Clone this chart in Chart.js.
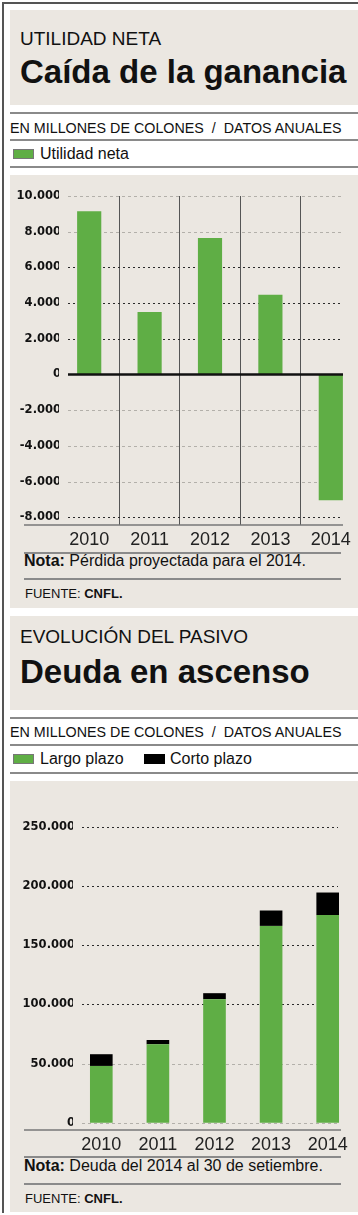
<!DOCTYPE html>
<html lang="es">
<head>
<meta charset="UTF-8">
<title>CNFL</title>
<script src="https://cdn.jsdelivr.net/npm/chart.js"></script>
<style>
  html, body { margin: 0; padding: 0; background: #fff; overflow: hidden; }
  body { position: relative; width: 358px; height: 1215px; font-family: "Liberation Sans", Arial, sans-serif; color: #111; }
  .abs { position: absolute; }
  .beige { background: #ebe7e1; }
  .rule { position: absolute; height: 0; border-top: 2px solid #8a8a8a; }
  .kicker { font-size: 19px; line-height: 1; white-space: nowrap; }
  .title { font-size: 33px; font-weight: bold; line-height: 1; white-space: nowrap; }
  .units { font-size: 14.3px; line-height: 1; white-space: pre; }
  .legend { font-size: 16px; line-height: 1; white-space: nowrap; }
  .swatch { position: absolute; width: 19px; height: 8px; border: 1px solid #777; }
  .note { font-size: 16px; line-height: 1; white-space: nowrap; }
  .src { font-size: 13px; line-height: 1; white-space: nowrap; }
</style>
</head>
<body>

<!-- frame -->
<div class="abs" style="left:3px;top:2px;width:355px;height:0;border-top:2px solid #555"></div>
<div class="abs" style="left:2px;top:2px;width:0;height:1211px;border-left:2px solid #555"></div>

<!-- panel 1 -->
<div class="abs beige" style="left:10px;top:10px;width:348px;height:95px"></div>
<div class="abs kicker" style="left:20px;top:29px">UTILIDAD NETA</div>
<div class="abs title" style="left:20px;top:55px">Caída de la ganancia</div>
<div class="rule" style="left:10px;top:112px;width:348px"></div>
<div class="abs units" style="left:10px;top:121px">EN MILLONES DE COLONES  /  DATOS ANUALES</div>
<div class="rule" style="left:10px;top:139px;width:348px"></div>
<div class="swatch" style="left:13px;top:149px;background:#5fae45"></div>
<div class="abs legend" style="left:40px;top:146px">Utilidad neta</div>
<div class="rule" style="left:10px;top:166px;width:348px"></div>

<div class="abs beige" style="left:10px;top:175px;width:348px;height:433px"></div>
<canvas id="chart1" class="abs" style="left:0;top:180px" width="362" height="370"></canvas>
<div class="rule" style="left:24px;top:552px;width:317px"></div>
<div class="abs note" style="left:24px;top:553px"><b>Nota:</b> Pérdida proyectada para el 2014.</div>
<div class="rule" style="left:24px;top:578px;width:317px"></div>
<div class="abs src" style="left:25px;top:587px">FUENTE: <b>CNFL.</b></div>

<!-- panel 2 -->
<div class="abs beige" style="left:10px;top:616px;width:348px;height:94px"></div>
<div class="abs kicker" style="left:20px;top:627px">EVOLUCIÓN DEL PASIVO</div>
<div class="abs title" style="left:20px;top:655px">Deuda en ascenso</div>
<div class="rule" style="left:10px;top:717px;width:348px"></div>
<div class="abs units" style="left:10px;top:725px">EN MILLONES DE COLONES  /  DATOS ANUALES</div>
<div class="rule" style="left:10px;top:744px;width:348px"></div>
<div class="swatch" style="left:13px;top:754px;background:#5fae45"></div>
<div class="abs legend" style="left:40px;top:751px">Largo plazo</div>
<div class="swatch" style="left:144px;top:754px;background:#000;border-color:#000"></div>
<div class="abs legend" style="left:170px;top:751px">Corto plazo</div>
<div class="rule" style="left:10px;top:772px;width:348px"></div>

<div class="abs beige" style="left:10px;top:781px;width:348px;height:431px"></div>
<canvas id="chart2" class="abs" style="left:0;top:790px" width="358" height="365"></canvas>
<div class="rule" style="left:24px;top:1156px;width:317px"></div>
<div class="abs note" style="left:24px;top:1158px"><b>Nota:</b> Deuda del 2014 al 30 de setiembre.</div>
<div class="rule" style="left:24px;top:1183px;width:317px"></div>
<div class="abs src" style="left:25px;top:1192px">FUENTE: <b>CNFL.</b></div>

<script>
  // data
  const years = ['2010', '2011', '2012', '2013', '2014'];
  const utilidad = [9150, 3500, 7650, 4470, -7050];
  const largoPlazo = [48000, 66300, 104400, 166400, 175500];
  const cortoPlazo = [9900, 3600, 5100, 13000, 19100];
  const ticks1 = [10000, 8000, 6000, 4000, 2000, 0, -2000, -4000, -6000, -8000];
  const ticks2 = [250000, 200000, 150000, 100000, 50000, 0];

  const green = '#5fae45';
  const tickFont = { family: 'DejaVu Sans', weight: 'bold', size: 11.5 };
  const yearFont = { family: 'Liberation Sans', size: 18 };

  function fmt(v) {
    const s = String(Math.abs(v)).replace(/\B(?=(\d{3})+(?!\d))/g, '.');
    return (v < 0 ? '-' : '') + s;
  }

  // dotted guides, zero line and base line, placed with the chart's own y scale
  const guides = {
    id: 'guides',
    beforeDatasetsDraw(chart, args, o) {
      const ctx = chart.ctx, y = chart.scales.y;
      ctx.save();
      y.ticks.forEach(t => {
        if (t.value === 0 && o.zero) return;
        const py = Math.round(y.getPixelForValue(t.value)) + 0.5;
        const dark = o.dark.includes(t.value);
        ctx.strokeStyle = dark ? '#2a2a2a' : '#b3b0aa';
        ctx.lineWidth = 1;
        ctx.setLineDash(dark ? [2, 3] : [3, 3]);
        ctx.beginPath();
        ctx.moveTo(o.x0, py);
        ctx.lineTo(o.x1, py);
        ctx.stroke();
      });
      ctx.setLineDash([]);
      const by = chart.chartArea.bottom;
      ctx.strokeStyle = '#777';
      ctx.lineWidth = 1.5;
      ctx.beginPath();
      ctx.moveTo(24, by);
      ctx.lineTo(o.base1, by);
      ctx.stroke();
      ctx.restore();
    },
    afterDatasetsDraw(chart, args, o) {
      if (!o.zero) return;
      const ctx = chart.ctx, py = chart.scales.y.getPixelForValue(0);
      ctx.save();
      ctx.strokeStyle = '#111';
      ctx.lineWidth = 2.5;
      ctx.beginPath();
      ctx.moveTo(o.x0, py);
      ctx.lineTo(o.x1, py);
      ctx.stroke();
      ctx.restore();
    }
  };

  new Chart(document.getElementById('chart1'), {
    type: 'bar',
    data: {
      labels: years,
      datasets: [{
        label: 'Utilidad neta',
        data: utilidad,
        backgroundColor: green,
        categoryPercentage: 1,
        barPercentage: 0.4
      }]
    },
    options: {
      responsive: false,
      animation: false,
      layout: { padding: { top: 16, right: 1, left: 0, bottom: 0 } },
      plugins: {
        legend: { display: false },
        tooltip: { enabled: false },
        guides: { x0: 68, x1: 343, base1: 343, zero: true, dark: [6000, 4000, 2000, -8000] }
      },
      scales: {
        x: {
          offset: true,
          grid: {
            offset: true,
            drawTicks: false,
            color: c => (c.index === 0 || c.index === years.length) ? 'rgba(0,0,0,0)' : '#555',
            lineWidth: 1
          },
          border: { display: false },
          ticks: { font: yearFont, color: '#222', padding: 4, maxRotation: 0 },
          afterFit: s => { s.height = 25; }
        },
        y: {
          min: -8430,
          max: 10000,
          grid: { display: false, drawTicks: false },
          border: { display: false },
          afterBuildTicks: s => { s.ticks = ticks1.map(v => ({ value: v })); },
          ticks: { font: tickFont, color: '#111', padding: -2, callback: v => fmt(v) },
          afterFit: s => { s.width = 59; }
        }
      }
    },
    plugins: [guides]
  });

  new Chart(document.getElementById('chart2'), {
    type: 'bar',
    data: {
      labels: years,
      datasets: [{
        label: 'Largo plazo',
        data: largoPlazo,
        backgroundColor: green,
        categoryPercentage: 1,
        barPercentage: 0.4
      }, {
        label: 'Corto plazo',
        data: cortoPlazo,
        backgroundColor: '#000',
        categoryPercentage: 1,
        barPercentage: 0.4
      }]
    },
    options: {
      responsive: false,
      animation: false,
      layout: { padding: { top: 37, right: 2, left: 0, bottom: 0 } },
      plugins: {
        legend: { display: false },
        tooltip: { enabled: false },
        guides: { x0: 82, x1: 338, base1: 341, zero: false, dark: [250000, 200000, 150000, 100000] }
      },
      scales: {
        x: {
          stacked: true,
          offset: true,
          grid: { display: false, drawTicks: false },
          border: { display: false },
          ticks: { font: yearFont, color: '#222', padding: 4, maxRotation: 0 },
          afterFit: s => { s.height = 25; }
        },
        y: {
          stacked: true,
          min: -6180,
          max: 250000,
          grid: { display: false, drawTicks: false },
          border: { display: false },
          afterBuildTicks: s => { s.ticks = ticks2.map(v => ({ value: v })); },
          ticks: { font: tickFont, color: '#111', padding: -2, callback: v => fmt(v) },
          afterFit: s => { s.width = 73; }
        }
      }
    },
    plugins: [guides]
  });
</script>
</body>
</html>
